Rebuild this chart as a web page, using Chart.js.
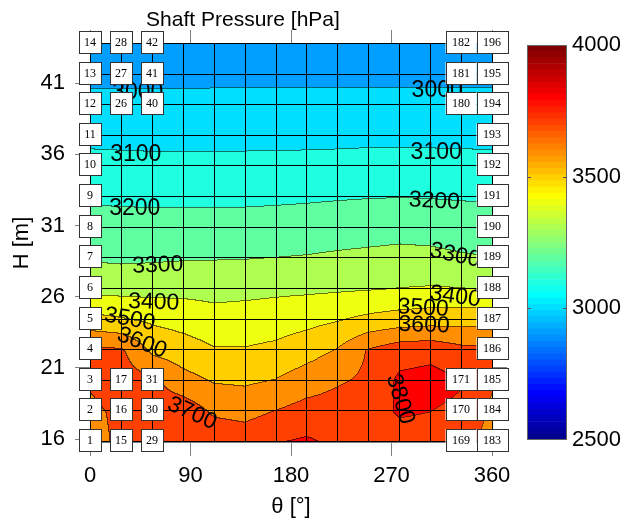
<!DOCTYPE html>
<html>
<head>
<meta charset="utf-8">
<script src="https://cdn.jsdelivr.net/npm/chart.js@4/dist/chart.umd.min.js"></script>
<style>
  html, body { margin: 0; padding: 0; background: #fff; }
  #wrap { position: relative; width: 627px; height: 521px; }
  #main { position: absolute; left: 0; top: 0; }
  #cbar { position: absolute; left: 510px; top: 0; }
</style>
</head>
<body>
<div id="wrap">
  <canvas id="main" width="627" height="521"></canvas>
  <canvas id="cbar" width="117" height="521"></canvas>
</div>
<script>
var FONT = "'Liberation Sans', Arial, sans-serif";

// sensor positions
var thetaDeg = [0, 27.69, 55.38, 83.08, 110.77, 138.46, 166.15, 193.85, 221.54, 249.23, 276.92, 304.62, 332.31, 360];
var heightM = [15.8, 17.95, 20.1, 22.25, 24.4, 26.55, 28.7, 30.85, 33.0, 35.15, 37.3, 39.45, 41.6, 43.75];

// pressure [hPa], one row per height (bottom -> top), one value per theta
var pressure = [
  [3665, 3720, 3760, 3790, 3770, 3760, 3798, 3815, 3780, 3770, 3760, 3760, 3720, 3670],
  [3680, 3720, 3760, 3765, 3686, 3669, 3705, 3740, 3750, 3760, 3810, 3800, 3780, 3680],
  [3712, 3750, 3720, 3638, 3594, 3587, 3606, 3651, 3689, 3720, 3820, 3835, 3808, 3710],
  [3725, 3715, 3580, 3547, 3509, 3508, 3524, 3561, 3608, 3710, 3760, 3770, 3730, 3730],
  [3535, 3512, 3485, 3464, 3439, 3443, 3452, 3470, 3495, 3526, 3548, 3560, 3563, 3569],
  [3374, 3368, 3369, 3373, 3369, 3375, 3382, 3385, 3390, 3397, 3404, 3410, 3405, 3397],
  [3292, 3286, 3290, 3295, 3297, 3299, 3303, 3308, 3317, 3325, 3333, 3328, 3313, 3304],
  [3240, 3237, 3236, 3237, 3238, 3240, 3244, 3248, 3254, 3259, 3265, 3261, 3251, 3247],
  [3187, 3185, 3182, 3181, 3181, 3182, 3185, 3189, 3194, 3198, 3200, 3198, 3194, 3191],
  [3132, 3129, 3126, 3126, 3126, 3127, 3129, 3130, 3133, 3136, 3136, 3135, 3133, 3132],
  [3078, 3076, 3075, 3075, 3075, 3075, 3076, 3076, 3077, 3079, 3079, 3079, 3077, 3077],
  [3028, 3027, 3027, 3027, 3028, 3028, 3028, 3028, 3029, 3029, 3029, 3029, 3029, 3029],
  [2978, 2978, 2978, 2978, 2980, 2980, 2980, 2980, 2980, 2980, 2980, 2980, 2980, 2980],
  [2928, 2929, 2929, 2929, 2931, 2931, 2931, 2931, 2931, 2931, 2931, 2931, 2931, 2931]
];

var levels = [2500, 2600, 2700, 2800, 2900, 3000, 3100, 3200, 3300, 3400, 3500, 3600, 3700, 3800, 3900];
var hTicks = [16, 21, 26, 31, 36, 41];
var cbTicks = [2500, 3000, 3500, 4000];
var cMin = 2500, cMax = 4000;

// contour labels (level text, theta, height, rotation deg)
var contourLabels = [
  ['3000', 42.8, 40.3, 0], ['3000', 310.9, 40.5, 0],
  ['3100', 41, 36.0, 0], ['3100', 310, 36.1, 0],
  ['3200', 40.1, 32.2, 0], ['3200', 308.3, 32.7, 3],
  ['3300', 60.7, 28.2, -2], ['3300', 327, 28.9, 12],
  ['3400', 57.1, 25.6, 2], ['3400', 327, 26.0, 8],
  ['3500', 35.7, 24.4, 10], ['3500', 298.3, 25.2, 3],
  ['3600', 46.4, 22.75, 21], ['3600', 299.2, 24.0, 2],
  ['3700', 91.4, 17.8, 24],
  ['3800', 277.6, 18.8, 73]
];

// which sensor ids get a tag: all rows for first/last column, edges for others
var tagCols = [0, 1, 2, 12, 13];
var edgeRows = [0, 1, 2, 11, 12, 13];

// MATLAB jet(64)
function jet64(e) {
  function u(k) {
    if (k < 1 || k > 47) return 0;
    if (k <= 16) return k / 16;
    if (k <= 31) return 1;
    return (48 - k) / 16;
  }
  return [Math.round(255 * u(e - 24)), Math.round(255 * u(e - 8)), Math.round(255 * u(e + 8))];
}
function levelColor(L) {
  var e = Math.floor((L - cMin) / (cMax - cMin) * 64) + 1;
  if (e < 1) e = 1; if (e > 64) e = 64;
  return jet64(e);
}

function locate(arr, v) {
  var n = arr.length;
  if (v <= arr[0]) return [0, 0];
  if (v >= arr[n - 1]) return [n - 2, 1];
  for (var i = 0; i < n - 1; i++) {
    if (v <= arr[i + 1]) return [i, (v - arr[i]) / (arr[i + 1] - arr[i])];
  }
}

var fieldPlugin = {
  id: 'field',
  beforeDatasetsDraw: function(chart) {
    var ctx = chart.ctx, xs = chart.scales.x, ys = chart.scales.y, ca = chart.chartArea;
    var x0 = Math.round(ca.left), y0 = Math.round(ca.top);
    var w = Math.round(ca.right) - x0, h = Math.round(ca.bottom) - y0;
    var img = ctx.createImageData(w, h), d = img.data;
    var bands = new Int16Array(w * h);
    var colLoc = [];
    for (var px = 0; px < w; px++) colLoc.push(locate(thetaDeg, xs.getValueForPixel(x0 + px + 0.5)));
    for (var py = 0; py < h; py++) {
      var rl = locate(heightM, ys.getValueForPixel(y0 + py + 0.5));
      var r0 = pressure[rl[0]], r1 = pressure[rl[0] + 1], t = rl[1];
      for (px = 0; px < w; px++) {
        var j = colLoc[px][0], s = colLoc[px][1];
        var v = (1 - t) * ((1 - s) * r0[j] + s * r0[j + 1]) + t * ((1 - s) * r1[j] + s * r1[j + 1]);
        var b = 0;
        for (var i = 0; i < levels.length; i++) if (v >= levels[i]) b = i;
        bands[py * w + px] = b;
      }
    }
    var cols = levels.map(levelColor);
    for (py = 0; py < h; py++) {
      for (px = 0; px < w; px++) {
        var k = py * w + px, c = cols[bands[k]], f = 1;
        if ((px > 0 && bands[k - 1] !== bands[k]) || (py > 0 && bands[k - w] !== bands[k])) f = 0.45;
        d[k * 4] = c[0] * f; d[k * 4 + 1] = c[1] * f; d[k * 4 + 2] = c[2] * f; d[k * 4 + 3] = 255;
      }
    }
    ctx.putImageData(img, x0, y0);

    // sensor grid
    ctx.save();
    ctx.strokeStyle = '#000';
    ctx.lineWidth = 1;
    ctx.beginPath();
    thetaDeg.forEach(function(th) {
      var x = Math.round(xs.getPixelForValue(th)) + 0.5;
      ctx.moveTo(x, ca.top); ctx.lineTo(x, ca.bottom);
    });
    heightM.forEach(function(hv) {
      var y = Math.round(ys.getPixelForValue(hv)) - 0.5;
      ctx.moveTo(ca.left, y); ctx.lineTo(ca.right, y);
    });
    ctx.stroke();

    // contour labels
    ctx.fillStyle = '#000';
    ctx.font = '23px ' + FONT;
    ctx.textAlign = 'center';
    ctx.textBaseline = 'middle';
    contourLabels.forEach(function(l) {
      ctx.save();
      ctx.translate(xs.getPixelForValue(l[1]), ys.getPixelForValue(l[2]));
      ctx.rotate(l[3] * Math.PI / 180);
      ctx.fillText(l[0], 0, 0);
      ctx.restore();
    });
    ctx.restore();
  },
  afterDraw: function(chart) {
    var ctx = chart.ctx, xs = chart.scales.x, ys = chart.scales.y, ca = chart.chartArea;
    ctx.save();
    // title
    ctx.fillStyle = '#000';
    ctx.font = '21px ' + FONT;
    ctx.textAlign = 'center';
    ctx.textBaseline = 'middle';
    ctx.fillText('Shaft Pressure [hPa]', ca.left + 153, 20);

    // sensor tags
    ctx.font = "12px 'Liberation Serif', 'DejaVu Serif', serif";
    tagCols.forEach(function(j) {
      var rows = (j === 0 || j === thetaDeg.length - 1) ? heightM.map(function(_, k) { return k; }) : edgeRows;
      rows.forEach(function(k) {
        var txt = String(j * heightM.length + k + 1);
        var bw = txt.length > 2 ? 31 : 22, bh = 22;
        var cx = Math.round(xs.getPixelForValue(thetaDeg[j]));
        var cy = Math.round(ys.getPixelForValue(heightM[k])) - 2;
        ctx.fillStyle = '#fff';
        ctx.fillRect(cx - bw / 2, cy - bh / 2, bw, bh);
        ctx.strokeStyle = '#333';
        ctx.lineWidth = 1;
        ctx.strokeRect(Math.round(cx - bw / 2) + 0.5, Math.round(cy - bh / 2) + 0.5, bw, bh);
        ctx.fillStyle = '#000';
        ctx.fillText(txt, cx, cy + 1);
      });
    });
    ctx.restore();
  }
};

function axisGrid(len) {
  return { drawOnChartArea: false, drawTicks: true, tickLength: len, color: '#808080', lineWidth: 1 };
}
var axisBorder = { display: true, color: '#808080', width: 1 };

new Chart(document.getElementById('main').getContext('2d'), {
  type: 'scatter',
  data: { datasets: [] },
  options: {
    responsive: false,
    animation: false,
    events: [],
    layout: { padding: 0 },
    plugins: { legend: { display: false }, tooltip: { enabled: false } },
    scales: {
      x: {
        type: 'linear', position: 'bottom', min: 0, max: 360, z: 1,
        ticks: { stepSize: 90, color: '#000', font: { family: FONT, size: 22 }, padding: 7, maxRotation: 0 },
        grid: axisGrid(14), border: axisBorder,
        title: { display: true, text: 'θ [°]', color: '#000', font: { family: FONT, size: 22 }, padding: { top: 0, bottom: 1 } },
        afterFit: function(s) { s.height = 79; }
      },
      x2: {
        type: 'linear', axis: 'x', position: 'top', min: 0, max: 360, z: 1,
        ticks: { stepSize: 90, display: false },
        grid: axisGrid(14), border: axisBorder,
        afterFit: function(s) { s.height = 44; }
      },
      y: {
        type: 'linear', position: 'left', min: 15.8, max: 43.75, z: 1,
        afterBuildTicks: function(s) { s.ticks = hTicks.map(function(v) { return { value: v }; }); },
        ticks: { color: '#000', font: { family: FONT, size: 22 }, padding: 10 },
        grid: axisGrid(15), border: axisBorder,
        title: { display: true, text: 'H [m]', color: '#000', font: { family: FONT, size: 22 }, padding: { top: 9, bottom: 0 } },
        afterFit: function(s) { s.width = 90; }
      },
      y2: {
        type: 'linear', axis: 'y', position: 'right', min: 15.8, max: 43.75, z: 1,
        afterBuildTicks: function(s) { s.ticks = hTicks.map(function(v) { return { value: v }; }); },
        ticks: { display: false },
        grid: axisGrid(15), border: axisBorder,
        afterFit: function(s) { s.width = 135; }
      }
    }
  },
  plugins: [fieldPlugin]
});

// colour bar
var cbSets = [];
for (var e = 1; e <= 64; e++) {
  var c = jet64(e);
  cbSets.push({
    data: [[cMin + (e - 1) * (cMax - cMin) / 64, cMin + e * (cMax - cMin) / 64]],
    backgroundColor: 'rgb(' + c.join(',') + ')',
    borderWidth: 0, grouped: false, barPercentage: 1, categoryPercentage: 1
  });
}

var cbFrame = {
  id: 'cbFrame',
  afterDraw: function(chart) {
    var ctx = chart.ctx, ca = chart.chartArea, ys = chart.scales.y;
    ctx.save();
    ctx.strokeStyle = '#666';
    ctx.lineWidth = 1;
    ctx.strokeRect(ca.left + 0.5, ca.top + 0.5, ca.right - ca.left - 1, ca.bottom - ca.top - 1);
    ctx.strokeStyle = '#555';
    ctx.beginPath();
    [3000, 3500].forEach(function(v) {
      var y = Math.round(ys.getPixelForValue(v)) + 0.5;
      ctx.moveTo(ca.left, y); ctx.lineTo(ca.left + 4, y);
      ctx.moveTo(ca.right - 4, y); ctx.lineTo(ca.right, y);
    });
    ctx.stroke();
    ctx.restore();
  }
};

new Chart(document.getElementById('cbar').getContext('2d'), {
  type: 'bar',
  data: { labels: [''], datasets: cbSets },
  options: {
    responsive: false,
    animation: false,
    events: [],
    layout: { padding: { left: 17, top: 45, bottom: 81, right: 0 } },
    plugins: { legend: { display: false }, tooltip: { enabled: false } },
    scales: {
      x: { display: false },
      y: {
        position: 'right', min: cMin, max: cMax,
        afterBuildTicks: function(s) { s.ticks = cbTicks.map(function(v) { return { value: v }; }); },
        ticks: { color: '#000', font: { family: FONT, size: 22 }, padding: 5,
                 callback: function(v) { return String(v); } },
        grid: { drawOnChartArea: false, drawTicks: false },
        border: { display: false },
        afterFit: function(s) { s.width = 60; }
      }
    }
  },
  plugins: [cbFrame]
});
</script>
</body>
</html>
